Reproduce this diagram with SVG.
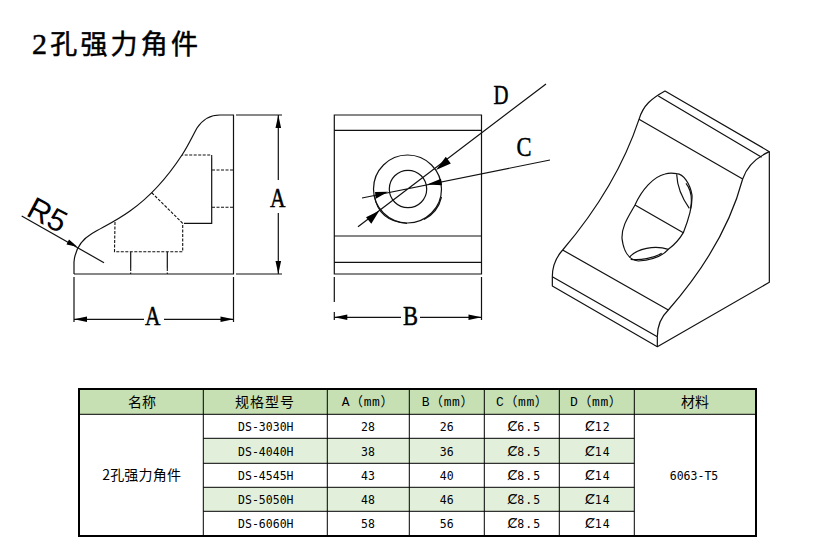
<svg xmlns="http://www.w3.org/2000/svg" width="817" height="559" viewBox="0 0 817 559">
<defs>
<style>
.l{fill:none;stroke:#111;stroke-width:1.2}
.d{fill:none;stroke:#111;stroke-width:1.1;stroke-dasharray:3 1.5}
.w{fill:none;stroke:#111;stroke-width:3.6;stroke-linejoin:round}
.a{fill:#000;stroke:none}
.g{fill:#000;stroke:#000;stroke-width:.5;font-family:"Liberation Serif","Noto Sans CJK SC",serif;font-size:28px}
.c{fill:#000;font-family:"Noto Sans CJK SC",sans-serif;font-size:14px;text-anchor:middle}
.h{fill:#000;font-family:"Liberation Mono","Noto Sans CJK SC",monospace;font-size:13px;letter-spacing:.6px}
.m{fill:#000;font-family:"DejaVu Sans Mono","Noto Sans CJK SC",monospace;font-size:11.5px;text-anchor:middle}
.s{letter-spacing:1.1px;text-anchor:start}
.p{font-family:"DejaVu Sans",sans-serif;font-size:14px;letter-spacing:0}
.t{fill:none;stroke:#000;stroke-width:1}
</style>
</defs>
<rect width="817" height="559" fill="#fff"/>
<text id="title" x="32" y="54" font-family="Liberation Serif,Noto Sans CJK SC,serif" font-size="27" letter-spacing="3.2" fill="#000" stroke="#000" stroke-width=".5"><tspan font-size="30">2</tspan>孔强力角件</text>

<g id="side-view">
<path class="l" d="M74 274V262C75 250 81 240 92 233.5C105 226 116 221 130 211C147 199 165 181 182 155C188 146 192 137 197 128C203 119 211 115 220 115H233.5V274H74"/>
<path class="d" d="M115 222L114.500 251.700H182.700V223.300"/>
<path class="d" d="M182.700 223.300L150.700 191.700"/>
<path class="l" d="M184 223.300H211.700V158"/>
<path class="d" d="M211.700 158V155H182"/>
<path class="d" d="M212 170H233M212 207.300H233"/>
<path class="l" d="M130.700 252V268M167.300 252V268"/>
<path class="d" d="M130.700 268V274M167.300 268V274"/>
<path class="l" d="M74 277V322M233.500 277V322M74 319.300H144M164 319.300H233.500M236 115H282M236 274H282M278.300 115V180M278.300 213V274"/>
<path class="l" d="M21.700 216L104 262.700"/>
<path class="a" d="M74 319.300l13-2.800v5.600zM233.500 319.300l-13-2.800v5.600zM278.300 115l-2.800 13h5.600zM278.300 274l-2.800-13h5.600zM77.300 246.700L66.500 244.500L69 239.500z"/>
<text class="g" x="145" y="325" textLength="15.500" lengthAdjust="spacingAndGlyphs">A</text>
<text class="g" x="270" y="207" textLength="15.500" lengthAdjust="spacingAndGlyphs">A</text>
<text x="25" y="215" transform="rotate(28 25 215)" font-family="Liberation Sans,sans-serif" font-size="31" fill="#000">R5</text>
</g>

<g id="front-view">
<path class="l" d="M334.300 115H481.500V274H334.300zM334.300 130.300H481.500M334.300 236H481.500M334.300 262.300H481.500"/>
<circle class="l" cx="407.500" cy="189" r="34"/>
<circle class="l" cx="408" cy="189" r="18.700"/>
<path class="l" d="M374.500 196C377 212 388 222 407 223.500M441.500 197A34 34 0 0 1 424 219.500"/>
<path class="l" d="M546 84L358 226.700M550 160L362 198"/>
<path class="l" d="M334.300 277V302M334.300 312V320M481.500 277V320M334.300 317.300H401M420 317.300H481.500"/>
<path class="a" d="M436 170L445.800 156.800L450.800 163.500zM379.300 210.700L371.300 223.700L366 217.200zM427 184.500L441 178.700L442 185.300zM388 191.700L375 192L375.800 198.800zM334.300 317.300l13-2.800v5.600zM481.500 317.300l-13-2.800v5.600z"/>
<text class="g" x="403" y="325" textLength="15" lengthAdjust="spacingAndGlyphs">B</text>
<text class="g" x="493.500" y="104" font-size="26" textLength="15" lengthAdjust="spacingAndGlyphs">D</text>
<text class="g" x="516.500" y="156" textLength="15" lengthAdjust="spacingAndGlyphs">C</text>
</g>

<g id="iso-view" transform="translate(540 80) scale(.33333)">
<path class="w" d="M375 33L688 215V607L352 800L37 618V590C37 555 50 530 68 510C170 390 250 260 297 118C310 75 335 55 375 33z"/>
<path class="w" d="M355 48L665 232M297 118L608 297M68 510L385 690M37 590L352 770V800"/>
<path class="w" d="M688 215C650 232 622 255 608 297C570 440 490 570 385 690C362 712 352 740 352 770"/>
<path class="w" d="M375 282C340 290 305 330 285 375C262 415 245 440 246 475C250 510 265 540 295 543C340 540 370 525 385 508C410 490 420 475 430 458C445 420 458 380 456 345C450 310 430 282 410 281C400 279 385 279 375 282z"/>
<path class="w" d="M285 375L430 458M268 532C290 505 345 495 385 508M272 538C300 542 340 535 365 520M410 283C412 330 430 360 448 385M438 310C450 325 458 350 452 385"/>
</g>

<g id="spec-table">
<rect x="79" y="389" width="677" height="25.300" fill="#c6e0b4"/>
<rect x="203.300" y="438.300" width="431" height="25" fill="#e2efda"/>
<rect x="203.300" y="487.300" width="431" height="24" fill="#e2efda"/>
<path class="t" d="M79 414.300H756M203.300 438.300H634.300M203.300 463.300H634.300M203.300 487.300H634.300M203.300 511.300H634.300M203.300 389V536M327.300 389V536M409.300 389V536M484.300 389V536M559.300 389V536M634.300 389V536"/>
<rect x="79" y="389" width="677" height="147" fill="none" stroke="#000" stroke-width="2"/>
<text class="c" x="142" y="407">名称</text>
<text class="c" x="265" y="407" letter-spacing="1">规格型号</text>
<text class="h" x="341.700" y="406">A（mm）</text>
<text class="h" x="421.700" y="406">B（mm）</text>
<text class="h" x="496" y="406">C（mm）</text>
<text class="h" x="570" y="406">D（mm）</text>
<text class="c" x="695" y="407">材料</text>
<text class="c" x="141.700" y="480" font-size="13" letter-spacing=".2">2孔强力角件</text>
<text class="m" x="694" y="480">6063-T5</text>
<text class="m" x="265.800" y="431">DS-3030H</text><text class="m" x="368" y="431">28</text><text class="m" x="446.700" y="431">26</text><text class="m s" x="507.500" y="431"><tspan class="p">Ȼ</tspan>6.5</text><text class="m s" x="585" y="431"><tspan class="p">Ȼ</tspan>12</text>
<text class="m" x="265.800" y="456">DS-4040H</text><text class="m" x="368" y="456">38</text><text class="m" x="446.700" y="456">36</text><text class="m s" x="507.500" y="456"><tspan class="p">Ȼ</tspan>8.5</text><text class="m s" x="585" y="456"><tspan class="p">Ȼ</tspan>14</text>
<text class="m" x="265.800" y="480">DS-4545H</text><text class="m" x="368" y="480">43</text><text class="m" x="446.700" y="480">40</text><text class="m s" x="507.500" y="480"><tspan class="p">Ȼ</tspan>8.5</text><text class="m s" x="585" y="480"><tspan class="p">Ȼ</tspan>14</text>
<text class="m" x="265.800" y="504">DS-5050H</text><text class="m" x="368" y="504">48</text><text class="m" x="446.700" y="504">46</text><text class="m s" x="507.500" y="504"><tspan class="p">Ȼ</tspan>8.5</text><text class="m s" x="585" y="504"><tspan class="p">Ȼ</tspan>14</text>
<text class="m" x="265.800" y="528">DS-6060H</text><text class="m" x="368" y="528">58</text><text class="m" x="446.700" y="528">56</text><text class="m s" x="507.500" y="528"><tspan class="p">Ȼ</tspan>8.5</text><text class="m s" x="585" y="528"><tspan class="p">Ȼ</tspan>14</text>
</g>
</svg>
